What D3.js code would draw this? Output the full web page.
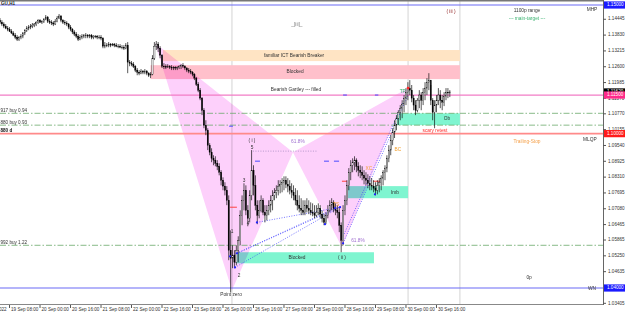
<!DOCTYPE html>
<html>
<head>
<meta charset="utf-8">
<script src="https://cdn.jsdelivr.net/npm/d3@7"></script>
<style>
  body { margin: 0; background: #fff; }
  svg text { font-family: "Liberation Sans", Arial, sans-serif; }
</style>
</head>
<body>
<div class="canvas"></div>
<script>
// GBPUSD H1, 19 Sep - 30 Sep 2022
const highs = [1.1449,1.1441,1.1433,1.1426,1.1418,1.1414,1.1406,1.1398,1.1391,1.1383,
  1.1379,1.1387,1.1395,1.1406,1.1418,1.1422,1.1426,1.1430,1.1430,1.1437,
  1.1445,1.1445,1.1441,1.1449,1.1461,1.1457,1.1445,1.1441,1.1437,1.1445,
  1.1457,1.1465,1.1461,1.1445,1.1441,1.1437,1.1430,1.1422,1.1410,1.1402,
  1.1395,1.1387,1.1383,1.1387,1.1387,1.1391,1.1387,1.1387,1.1387,1.1383,
  1.1383,1.1383,1.1383,1.1383,1.1375,1.1356,1.1352,1.1356,1.1352,1.1352,
  1.1352,1.1352,1.1348,1.1348,1.1344,1.1344,1.1352,1.1356,1.1286,1.1282,
  1.1278,1.1266,1.1255,1.1247,1.1251,1.1247,1.1251,1.1247,1.1239,1.1239,
  1.1305,1.1356,1.1360,1.1356,1.1340,1.1309,1.1274,1.1270,1.1270,1.1266,
  1.1266,1.1262,1.1262,1.1262,1.1266,1.1270,1.1274,1.1266,1.1258,1.1255,
  1.1251,1.1243,1.1235,1.1220,1.1200,1.1177,1.1142,1.1099,1.1052,1.1021,
  1.0963,1.0943,1.0916,1.0912,1.0897,1.0885,1.0858,1.0830,1.0811,1.0796,
  1.0760,1.0624,1.0566,1.0547,1.0566,1.0601,1.0702,1.0760,1.0807,1.0799,
  1.0722,1.0780,1.0936,1.0877,1.0838,1.0741,1.0741,1.0760,1.0749,1.0722,
  1.0722,1.0741,1.0760,1.0780,1.0788,1.0799,1.0819,1.0819,1.0827,1.0834,
  1.0834,1.0827,1.0819,1.0807,1.0799,1.0788,1.0780,1.0760,1.0749,1.0741,
  1.0741,1.0749,1.0741,1.0733,1.0729,1.0722,1.0722,1.0729,1.0722,1.0702,
  1.0687,1.0694,1.0722,1.0741,1.0749,1.0741,1.0729,1.0722,1.0714,1.0655,
  1.0722,1.0760,1.0819,1.0866,1.0897,1.0904,1.0912,1.0904,1.0889,1.0877,
  1.0873,1.0858,1.0850,1.0842,1.0834,1.0827,1.0819,1.0811,1.0819,1.0827,
  1.0838,1.0858,1.0877,1.0916,1.0955,1.0994,1.1021,1.1052,1.1072,1.1091,
  1.1111,1.1130,1.1150,1.1177,1.1200,1.1208,1.1189,1.1150,1.1130,1.1138,
  1.1169,1.1161,1.1177,1.1200,1.1216,1.1235,1.1189,1.1138,1.1130,1.1150,
  1.1177,1.1169,1.1150,1.1161,1.1177,1.1177,1.1169];

const lows = [1.1426,1.1418,1.1410,1.1406,1.1398,1.1395,1.1387,1.1379,1.1367,1.1360,
  1.1360,1.1367,1.1371,1.1383,1.1395,1.1402,1.1406,1.1410,1.1414,1.1418,
  1.1426,1.1430,1.1426,1.1430,1.1441,1.1430,1.1426,1.1422,1.1418,1.1422,
  1.1433,1.1445,1.1433,1.1426,1.1422,1.1418,1.1406,1.1398,1.1387,1.1379,
  1.1371,1.1360,1.1363,1.1367,1.1371,1.1371,1.1371,1.1371,1.1367,1.1367,
  1.1371,1.1367,1.1367,1.1363,1.1332,1.1332,1.1336,1.1336,1.1336,1.1340,
  1.1336,1.1336,1.1332,1.1332,1.1328,1.1325,1.1328,1.1235,1.1262,1.1262,
  1.1255,1.1239,1.1227,1.1227,1.1231,1.1231,1.1231,1.1227,1.1220,1.1216,
  1.1227,1.1286,1.1325,1.1317,1.1293,1.1255,1.1251,1.1251,1.1255,1.1251,
  1.1247,1.1247,1.1247,1.1247,1.1251,1.1251,1.1255,1.1247,1.1239,1.1235,
  1.1231,1.1223,1.1208,1.1185,1.1161,1.1130,1.1072,1.1021,1.0994,1.0936,
  1.0916,1.0889,1.0877,1.0873,1.0858,1.0838,1.0799,1.0780,1.0760,1.0722,
  1.0508,1.0383,1.0477,1.0477,1.0488,1.0500,1.0566,1.0644,1.0702,1.0683,
  1.0640,1.0655,1.0741,1.0760,1.0702,1.0648,1.0671,1.0694,1.0683,1.0655,
  1.0663,1.0683,1.0694,1.0702,1.0741,1.0749,1.0760,1.0768,1.0772,1.0780,
  1.0788,1.0772,1.0764,1.0749,1.0741,1.0722,1.0702,1.0694,1.0683,1.0683,
  1.0683,1.0694,1.0687,1.0683,1.0679,1.0671,1.0675,1.0683,1.0671,1.0655,
  1.0644,1.0648,1.0671,1.0694,1.0702,1.0694,1.0683,1.0671,1.0617,1.0539,
  1.0566,1.0683,1.0722,1.0780,1.0819,1.0850,1.0858,1.0850,1.0834,1.0827,
  1.0819,1.0803,1.0799,1.0788,1.0780,1.0780,1.0772,1.0760,1.0764,1.0772,
  1.0780,1.0799,1.0819,1.0850,1.0889,1.0916,1.0955,1.0983,1.1013,1.1033,
  1.1052,1.1060,1.1083,1.1111,1.1130,1.1150,1.1122,1.1091,1.1072,1.1083,
  1.1099,1.1091,1.1111,1.1130,1.1150,1.1169,1.1111,1.1052,1.1021,1.1083,
  1.1111,1.1099,1.1091,1.1107,1.1130,1.1138,1.1142];

const closes = [1.1433,1.1426,1.1418,1.1410,1.1406,1.1398,1.1391,1.1383,1.1375,1.1367,
  1.1375,1.1379,1.1391,1.1402,1.1410,1.1414,1.1418,1.1422,1.1426,1.1433,
  1.1441,1.1433,1.1437,1.1445,1.1453,1.1437,1.1433,1.1430,1.1426,1.1437,
  1.1449,1.1457,1.1441,1.1433,1.1430,1.1426,1.1414,1.1406,1.1395,1.1387,
  1.1379,1.1367,1.1375,1.1379,1.1383,1.1383,1.1379,1.1383,1.1375,1.1379,
  1.1379,1.1375,1.1375,1.1371,1.1340,1.1344,1.1344,1.1348,1.1344,1.1348,
  1.1344,1.1340,1.1340,1.1336,1.1336,1.1332,1.1344,1.1278,1.1274,1.1270,
  1.1262,1.1247,1.1239,1.1235,1.1243,1.1239,1.1243,1.1235,1.1227,1.1231,
  1.1293,1.1340,1.1348,1.1332,1.1305,1.1262,1.1262,1.1258,1.1262,1.1258,
  1.1255,1.1258,1.1255,1.1258,1.1262,1.1266,1.1262,1.1255,1.1247,1.1243,
  1.1239,1.1231,1.1216,1.1192,1.1169,1.1138,1.1091,1.1033,1.1013,1.0955,
  1.0928,1.0904,1.0897,1.0885,1.0873,1.0850,1.0819,1.0796,1.0780,1.0741,
  1.0547,1.0516,1.0527,1.0500,1.0547,1.0585,1.0683,1.0741,1.0780,1.0702,
  1.0671,1.0760,1.0858,1.0799,1.0722,1.0683,1.0702,1.0741,1.0694,1.0683,
  1.0702,1.0722,1.0741,1.0760,1.0772,1.0780,1.0796,1.0803,1.0811,1.0819,
  1.0803,1.0796,1.0780,1.0772,1.0760,1.0741,1.0722,1.0710,1.0702,1.0694,
  1.0722,1.0710,1.0702,1.0694,1.0690,1.0683,1.0694,1.0710,1.0687,1.0671,
  1.0655,1.0683,1.0702,1.0722,1.0733,1.0710,1.0702,1.0694,1.0644,1.0585,
  1.0702,1.0741,1.0799,1.0850,1.0877,1.0889,1.0897,1.0873,1.0858,1.0850,
  1.0838,1.0827,1.0819,1.0807,1.0799,1.0796,1.0788,1.0780,1.0799,1.0811,
  1.0827,1.0850,1.0866,1.0904,1.0936,1.0974,1.1006,1.1033,1.1060,1.1083,
  1.1099,1.1115,1.1138,1.1161,1.1177,1.1169,1.1138,1.1111,1.1091,1.1130,
  1.1150,1.1130,1.1161,1.1177,1.1200,1.1208,1.1130,1.1083,1.1111,1.1130,
  1.1150,1.1130,1.1122,1.1146,1.1161,1.1158,1.1162];
const firstOpen = 1.1441;

// time axis (bar index of each label)
const timeLabels = ["16 Sep 2022", "19 Sep 08:00", "20 Sep 00:00", "20 Sep 16:00", "21 Sep 08:00",
  "22 Sep 00:00", "22 Sep 16:00", "23 Sep 08:00", "26 Sep 00:00", "26 Sep 16:00", "27 Sep 08:00",
  "28 Sep 00:00", "28 Sep 16:00", "29 Sep 08:00", "30 Sep 00:00", "30 Sep 16:00"];
const timeBars = [-11, 5, 21, 37, 53, 69, 85, 101, 117, 133, 149, 165, 181, 197, 213, 229];

// price axis labels
const priceTicks = [1.14445, 1.13830, 1.13215, 1.12600, 1.11985, 1.11370, 1.10770, 1.10155,
  1.09540, 1.08925, 1.08310, 1.07695, 1.07080, 1.06465, 1.05865, 1.05250, 1.04635, 1.03405];

// horizontal levels
const blueLevels = [1.15, 1.04];
const pinkLevel = 1.115;
const redLevel = 1.10;
const buyLevels = [1.1079, 1.1033, 1.0566];
const buyLabels = ["917 buy 0.94", "880 buy 0.93", "992 buy 1.22"];
const stopLabel = "880 d";

// vertical separators (bar index)
const vLines = [121.7, 214.1, 241.3];

// zones
const zoneFrom = [85.5, 79, 208.3, 182.6, 123.8];
const zoneTo = [241.3, 241.3, 241.3, 214.1, 196.2];
const zoneTop = [1.1325, 1.1266, 1.1079, 1.0796, 1.0539];
const zoneBottom = [1.1282, 1.1212, 1.1033, 1.0749, 1.0496];

// gartley X A B C D
const gartleyBars = [81.3, 121.7, 153.7, 179.4, 214.1];
const gartleyPrices = [1.1352, 1.0391, 1.0928, 1.0558, 1.1177];

// dotted trend lines [bar, price]
const trendFrom = [[120.7, 1.0523], [123.3, 1.0480], [124.3, 1.0535], [134.8, 1.0655], [180, 1.0574], [180, 1.0601]];
const trendTo = [[178.4, 1.0714], [178.4, 1.0714], [175.8, 1.0710], [178.4, 1.0714], [214.1, 1.1150], [212, 1.1130]];
const swingDots = [[120.7, 1.0523], [123.3, 1.0480], [124.3, 1.0535], [134.8, 1.0655], [170.5, 1.0648],
  [175.8, 1.0710], [178.4, 1.0714], [196.7, 1.0764], [180, 1.0574]];
const redMarks = [[120.7, 124.3, 1.0714], [179.4, 182, 1.0815], [195.7, 199.4, 1.0815]];
const blueMarks = [[120.2, 122.2, 1.1029], [133.8, 136.4, 1.0893], [170, 172.6, 1.0893],
  [175.2, 177.9, 1.0893], [180, 182, 1.1150], [196.7, 198.5, 1.1150]];
const waveFiveLevel = [132.7, 166.8, 1.0932];

// text notes
const noteTexts = ["familiar ICT Bearish Breaker", "Blocked", "Bearish Gartley --- filled", "_[iii]_", "( iii )",
  "1100p range", "--- main-target ---", "Trailing-Stop", "0p", "Point zero", "Blocked", "( ii )", "Ob", "Imb",
  "scary retest", "TP", "( i )", "5", "3", "4", "1", "2", "61.8%", "61.8%", "BC", "XC", "TS", "MHP", "MLQP", "WN"];
const noteBars = [154.3, 154.8, 155.3, 155.8, 236.6, 276.5, 276.5, 276.5, 277.6, 121.2, 155.8, 179.4, 234.5, 207.2,
  228.2, 211.3, 132.2, 132.2, 128, 130.1, 121.7, 125.4, 156.3, 187.8, 208.7, 193.5, 176.3, 310.6, 309.5, 310.6];
const notePrices = [1.1301, 1.1239, 1.1169, 1.1422, 1.1472, 1.1476, 1.1445, 1.0970, 1.0438, 1.0372, 1.0516, 1.0516,
  1.1056, 1.0772, 1.1013, 1.1161, 1.0974, 1.0947, 1.0815, 1.0648, 1.0620, 1.0446, 1.0970, 1.0585, 1.0936, 1.0862,
  1.0725, 1.1480, 1.0978, 1.0399];

const dims = { width: 625, height: 315, plotRight: 603, plotBottom: 304 };

const svg = d3.select(".canvas").append("svg")
  .attr("width", dims.width)
  .attr("height", dims.height);

const x = d3.scaleLinear().domain([0, 316]).range([0, 602.3]);
const y = d3.scaleLinear().domain([1.04, 1.15]).range([288, 5]);

svg.append("clipPath").attr("id", "plot")
  .append("rect").attr("x", 0).attr("y", 1).attr("width", dims.plotRight).attr("height", dims.plotBottom - 1);

const graph = svg.append("g").attr("clip-path", "url(#plot)");

// vertical separators
graph.selectAll(".vline").data(vLines).join("line")
  .attr("x1", d => x(d)).attr("x2", d => x(d))
  .attr("y1", 0).attr("y2", dims.plotBottom)
  .attr("stroke", "#d4d4d4").attr("stroke-width", 1);

// zones
const zoneColor = ["#ffe4c4", "#ffc0cb", "#7ff5d0", "#7ff5d0", "#7ff5d0"];
graph.selectAll(".zone").data(zoneFrom).join("rect")
  .attr("x", (d, i) => x(d))
  .attr("width", (d, i) => x(zoneTo[i]) - x(d))
  .attr("y", (d, i) => y(zoneTop[i]))
  .attr("height", (d, i) => y(zoneBottom[i]) - y(zoneTop[i]))
  .attr("fill", (d, i) => zoneColor[i]);

// gartley triangles
const tri = [[0, 1, 2], [2, 3, 4]];
graph.selectAll(".tri").data(tri).join("polygon")
  .attr("points", t => t.map(j => `${x(gartleyBars[j])},${y(gartleyPrices[j])}`).join(" "))
  .attr("fill", "#fdd0fb")
  .style("mix-blend-mode", "multiply");

// horizontal levels
graph.selectAll(".blue").data(blueLevels).join("line")
  .attr("x1", 0).attr("x2", dims.plotRight)
  .attr("y1", d => y(d)).attr("y2", d => y(d))
  .attr("stroke", "#6b6bf5").attr("stroke-width", 1.2);

graph.append("line")
  .attr("x1", 0).attr("x2", dims.plotRight)
  .attr("y1", y(pinkLevel)).attr("y2", y(pinkLevel))
  .attr("stroke", "#f27cc6").attr("stroke-width", 1.2);

graph.append("line")
  .attr("x1", 0).attr("x2", dims.plotRight)
  .attr("y1", y(redLevel)).attr("y2", y(redLevel))
  .attr("stroke", "#ff8a8a").attr("stroke-width", 1.6);

graph.selectAll(".buy").data(buyLevels).join("line")
  .attr("x1", 0).attr("x2", dims.plotRight)
  .attr("y1", d => y(d)).attr("y2", d => y(d))
  .attr("stroke", "#6aa86a").attr("stroke-width", 0.8)
  .attr("stroke-dasharray", "6,2,1.5,2");

graph.selectAll(".buyText").data(buyLevels).join("text")
  .attr("x", x(0) + 0.5).attr("y", d => y(d) - 1.6)
  .attr("font-size", 4.6).attr("fill", "#333")
  .text((d, i) => buyLabels[i]);

graph.append("text")
  .attr("x", x(0) + 0.5).attr("y", y(redLevel) - 1.6)
  .attr("font-size", 4.6).attr("font-weight", "bold").attr("fill", "#111")
  .text(stopLabel);

// wave 5 level
graph.append("line")
  .attr("x1", x(waveFiveLevel[0])).attr("x2", x(waveFiveLevel[1]))
  .attr("y1", y(waveFiveLevel[2])).attr("y2", y(waveFiveLevel[2]))
  .attr("stroke", "#9a80b8").attr("stroke-width", 0.7).attr("stroke-dasharray", "1,1.5");

// trend lines
graph.selectAll(".trend").data(trendFrom).join("line")
  .attr("x1", d => x(d[0])).attr("y1", d => y(d[1]))
  .attr("x2", (d, i) => x(trendTo[i][0])).attr("y2", (d, i) => y(trendTo[i][1]))
  .attr("stroke", "#3b3bff").attr("stroke-width", 0.7).attr("stroke-dasharray", "1,1.5");

graph.selectAll(".rmark").data(redMarks).join("line")
  .attr("x1", d => x(d[0])).attr("x2", d => x(d[1]))
  .attr("y1", d => y(d[2])).attr("y2", d => y(d[2]))
  .attr("stroke", "#ff4040").attr("stroke-width", 1);

graph.selectAll(".bmark").data(blueMarks).join("line")
  .attr("x1", d => x(d[0])).attr("x2", d => x(d[1]))
  .attr("y1", d => y(d[2])).attr("y2", d => y(d[2]))
  .attr("stroke", "#4a4aff").attr("stroke-width", 1);

// candles
const bars = closes.map((c, i) => ({
  i, o: i ? closes[i - 1] : firstOpen, h: highs[i], l: lows[i], c
}));

graph.selectAll(".wick").data(bars).join("line")
  .attr("x1", d => x(d.i)).attr("x2", d => x(d.i))
  .attr("y1", d => y(d.h)).attr("y2", d => y(d.l))
  .attr("stroke", "#111").attr("stroke-width", 0.7);

graph.selectAll(".body").data(bars).join("rect")
  .attr("x", d => x(d.i) - 0.6).attr("width", 1.2)
  .attr("y", d => y(Math.max(d.o, d.c)))
  .attr("height", d => Math.max(0.6, Math.abs(y(d.o) - y(d.c))))
  .attr("fill", d => d.c > d.o ? "#fff" : "#000")
  .attr("stroke", "#000").attr("stroke-width", 0.35);

graph.selectAll(".dot").data(swingDots).join("circle")
  .attr("cx", d => x(d[0])).attr("cy", d => y(d[1])).attr("r", 1.1)
  .attr("fill", "#2020ff");

graph.append("circle")
  .attr("cx", x(gartleyBars[4])).attr("cy", y(gartleyPrices[4])).attr("r", 1.4)
  .attr("fill", "#ff2a2a");

// notes
const noteColor = {
  "( iii )": "#8b1a1a", "--- main-target ---": "#3cb371", "Trailing-Stop": "#f5a04a",
  "scary retest": "#ff2a2a", "TP": "#3cb371", "61.8%": "#a070d0",
  "BC": "#f0a030", "XC": "#f0a030", "TS": "#f0a030", "_[iii]_": "#777"
};
graph.selectAll(".note").data(noteTexts).join("text")
  .attr("x", (d, i) => x(noteBars[i]))
  .attr("y", (d, i) => y(notePrices[i]))
  .attr("text-anchor", "middle")
  .attr("dominant-baseline", "middle")
  .attr("font-size", 4.8)
  .attr("fill", d => noteColor[d] || "#333")
  .text(d => d);

// symbol label
svg.append("text").attr("x", 1).attr("y", 5).attr("font-size", 4.6)
  .attr("font-weight", "bold").attr("fill", "#222").text("GU,H1");

// frame
svg.append("rect").attr("x", 0).attr("y", 0).attr("width", dims.plotRight).attr("height", 1.5).attr("fill", "#777");
svg.append("line").attr("x1", dims.plotRight + 0.5).attr("x2", dims.plotRight + 0.5)
  .attr("y1", 0).attr("y2", dims.plotBottom + 1).attr("stroke", "#666");
svg.append("line").attr("x1", 0).attr("x2", dims.plotRight)
  .attr("y1", dims.plotBottom + 0.5).attr("y2", dims.plotBottom + 0.5).attr("stroke", "#888");

// price axis
const yAxis = svg.append("g");
yAxis.selectAll("line").data(priceTicks).join("line")
  .attr("x1", dims.plotRight).attr("x2", dims.plotRight + 3)
  .attr("y1", d => y(d)).attr("y2", d => y(d)).attr("stroke", "#555");
yAxis.selectAll("text").data(priceTicks).join("text")
  .attr("x", dims.plotRight + 5).attr("y", d => y(d))
  .attr("dominant-baseline", "middle").attr("font-size", 4.6).attr("fill", "#333")
  .text(d => d.toFixed(5));

const lastClose = closes[closes.length - 1];
const priceBoxes = [lastClose, pinkLevel, redLevel].concat(blueLevels);
const boxFill = ["#000", "#ff2b8a", "#ff1a1a", "#1a1aff", "#1a1aff"];
const boxes = svg.append("g").selectAll("g").data(priceBoxes).join("g")
  .attr("transform", d => `translate(${dims.plotRight + 1}, ${y(d)})`);
boxes.append("rect").attr("x", 0).attr("y", -3.6).attr("width", 21).attr("height", 7.2)
  .attr("fill", (d, i) => boxFill[i]);
boxes.append("text").attr("x", 3).attr("y", 0).attr("dominant-baseline", "middle")
  .attr("font-size", 4.6).attr("fill", "#fff").text(d => d.toFixed(5));

// time axis
const xAxis = svg.append("g");
xAxis.selectAll("line").data(timeBars).join("line")
  .attr("x1", d => x(d)).attr("x2", d => x(d))
  .attr("y1", dims.plotBottom + 1).attr("y2", dims.plotBottom + 4).attr("stroke", "#555");
xAxis.selectAll("text").data(timeBars).join("text")
  .attr("x", d => x(d) + 1.5).attr("y", dims.plotBottom + 5.5)
  .attr("dominant-baseline", "middle").attr("font-size", 4.6).attr("fill", "#333")
  .text((d, i) => timeLabels[i]);
</script>
</body>
</html>
